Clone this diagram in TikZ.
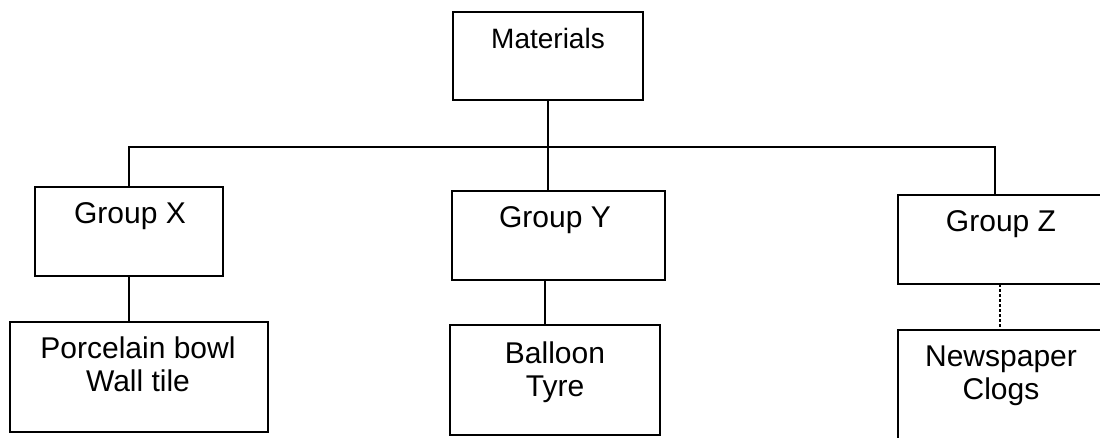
\documentclass[tikz,border=0pt]{standalone}
\usepackage{fontspec}
\setmainfont{Liberation Sans}
\begin{document}
\begin{tikzpicture}[x=1pt,y=-1pt,
  box/.style={draw=black,line width=2pt,rectangle,inner sep=0pt},
  lbl/.style={align=center,inner sep=0pt,font=\fontsize{30}{33}\selectfont},
  conn/.style={draw=black,line width=2pt},
  dconn/.style={draw=black,line width=2pt,dash pattern=on 3pt off 2pt}]
\useasboundingbox (0,0) rectangle (1100,437);
\clip (0,0) rectangle (1100,437);
% boxes
\node[box,minimum width=190pt,minimum height=88pt] (m)  at (548,56) {};
\node[box,minimum width=188pt,minimum height=89pt] (gx) at (129,231.5) {};
\node[box,minimum width=213pt,minimum height=89pt] (gy) at (558.5,235.5) {};
\node[box,minimum width=217pt,minimum height=89pt] (gz) at (1006.5,239.5) {};
\node[box,minimum width=258pt,minimum height=110pt] (px) at (139,377) {};
\node[box,minimum width=210pt,minimum height=110pt] (by) at (555,380) {};
\node[box,minimum width=217pt,minimum height=130pt] (nz) at (1006.5,395) {};
% labels
\node[lbl,font=\fontsize{28}{32}\selectfont] (tm) at (548,38) {Materials};
\node[lbl] (tgx) at (130,216) {Group X};
\node[lbl] (tgy) at (555,220) {Group Y};
\node[lbl] (tgz) at (1001,224) {Group Z};
\node[lbl] (tpx) at (138,364) {Porcelain bowl\\Wall tile};
\node[lbl] (tby) at (555,372) {Balloon\\Tyre};
\node[lbl] (tnz) at (1001,376) {Newspaper\\Clogs};
% connector points
\coordinate (bus) at (0,147);
\coordinate (zt) at (995,195);
\coordinate (yb) at (545,280);
\coordinate (zb) at (1000,284);
% connectors
\draw[conn] (m.south) -- (m.south |- gy.north);
\draw[conn] (gx.north) -- (gx.north |- bus) -- (zt |- bus) -- (zt);
\draw[conn] (gx.south) -- (gx.south |- px.north);
\draw[conn] (yb) -- (yb |- by.north);
\draw[dconn] (zb) -- (zb |- nz.north);
\end{tikzpicture}
\end{document}
